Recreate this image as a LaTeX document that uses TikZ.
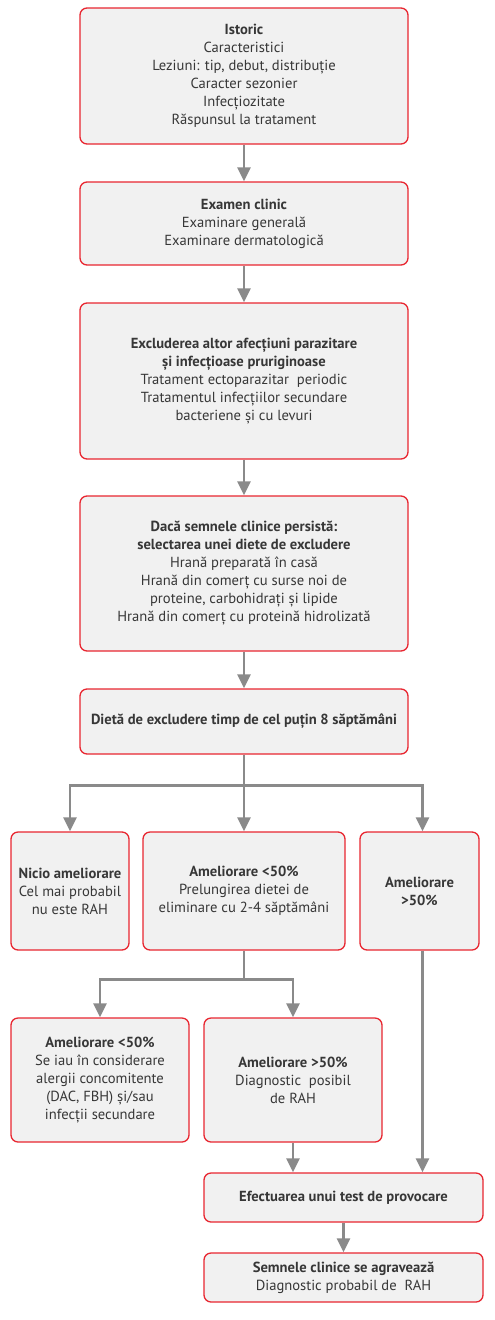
\documentclass[tikz,border=0pt]{standalone}
\usepackage{fontspec}
\setmainfont{PT Sans}
\usetikzlibrary{arrows.meta, positioning, calc}
\definecolor{boxred}{RGB}{232,38,48}
\definecolor{boxfill}{RGB}{241,241,241}
\definecolor{arrowgray}{RGB}{138,138,138}
\definecolor{textgray}{RGB}{55,55,55}

\begin{document}
\begin{tikzpicture}[x=1pt, y=-1pt,
    box/.style={draw=boxred, line width=1.3pt, fill=boxfill, rounded corners=7pt,
        align=center, text=textgray, inner sep=0pt,
        font=\fontsize{14.6}{18}\selectfont},
    arr/.style={draw=arrowgray, line width=2.5pt, -{Triangle[length=14pt, width=13pt]}}]
    \useasboundingbox (0,0) rectangle (495,1320);

    % Main column
    \node[box, minimum width=328pt, minimum height=136pt] (istoric) at (244,76)
        {\textbf{Istoric}\\Caracteristici\\Leziuni: tip, debut, distribuție\\Caracter sezonier\\Infecțiozitate\\Răspunsul la tratament};
    \node[box, minimum width=328pt, minimum height=83pt] (examen) at (244,223.5)
        {\textbf{Examen clinic}\\Examinare generală\\Examinare dermatologică};
    \node[box, minimum width=328pt, minimum height=156pt] (excludere) at (244,381)
        {\textbf{Excluderea altor afecțiuni parazitare}\\\textbf{și infecțioase pruriginoase}\\Tratament ectoparazitar~ periodic\\Tratamentul infecțiilor secundare\\bacteriene și cu levuri};
    \node[box, minimum width=328pt, minimum height=155pt] (dieta) at (244,573.5)
        {\textbf{Dacă semnele clinice persistă:}\\\textbf{selectarea unei diete de excludere}\\Hrană preparată în casă\\Hrană din comerț cu surse noi de\\proteine, carbohidrați și lipide\\Hrană din comerț cu proteină hidrolizată};
    \node[box, minimum width=328pt, minimum height=65pt] (opt) at (244,721.5)
        {\textbf{Dietă de excludere timp de cel puțin 8 săptămâni}};

    % First branch
    \node[box, minimum width=118pt, minimum height=118pt] (nicio) at (70,891)
        {\textbf{Nicio ameliorare}\\Cel mai probabil\\nu este RAH};
    \node[box, minimum width=202pt, minimum height=118pt] (sub1) at (244,891)
        {\textbf{Ameliorare <50\%}\\Prelungirea dietei de\\eliminare cu 2-4 săptămâni};
    \node[box, minimum width=119pt, minimum height=118pt] (peste1) at (419.5,891)
        {\textbf{Ameliorare}\\\textbf{>50\%}};

    % Second branch
    \node[box, minimum width=178pt, minimum height=124pt] (sub2) at (100,1080)
        {\textbf{Ameliorare <50\%}\\Se iau în considerare\\alergii concomitente\\(DAC, FBH) și/sau\\infecții secundare};
    \node[box, minimum width=178pt, minimum height=124pt] (peste2) at (293,1080)
        {\textbf{Ameliorare >50\%}\\Diagnostic~ posibil\\de RAH};

    % Bottom
    \node[box, minimum width=279pt, minimum height=49pt] (test) at (343.5,1197.5)
        {\textbf{Efectuarea unui test de provocare}};
    \node[box, minimum width=279pt, minimum height=49pt] (final) at (343.5,1277.5)
        {\textbf{Semnele clinice se agravează}\\Diagnostic probabil de~ RAH};

    % Connectors
    \draw[arr] (istoric) -- (examen);
    \draw[arr] (examen) -- (excludere);
    \draw[arr] (excludere) -- (dieta);
    \draw[arr] (dieta) -- (opt);

    \coordinate (split1) at ($(opt.south)+(0,31)$);
    \draw[arr] (opt.south) -- (sub1.north);
    \draw[arr] (split1) -| (nicio.north);
    \draw[arr] (split1) -| ([xshift=3pt]peste1.north);

    \coordinate (split2) at ($(sub1.south)+(0,29)$);
    \draw[arr] (sub1.south) -- (split2) -| (sub2.north);
    \draw[arr] (split2) -| (peste2.north);

    \draw[arr] (peste2.south) -- (peste2.south |- test.north);
    \draw[arr] ([xshift=3pt]peste1.south) -- ([xshift=3pt]peste1.south |- test.north);
    \draw[arr] (test) -- (final);
\end{tikzpicture}
\end{document}
